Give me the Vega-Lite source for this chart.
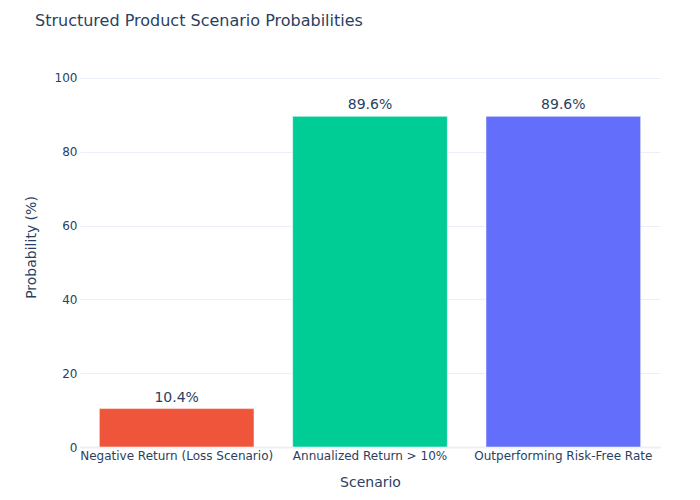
{
  "$schema": "https://vega.github.io/schema/vega-lite/v6.json",
  "autosize": {"type": "none"},
  "width": 580,
  "height": 400,
  "padding": {"left": 80, "top": 47, "right": 40, "bottom": 53},
  "background": "white",
  "config": {
    "font": "DejaVu Sans",
    "view": {"stroke": null},
    "axis": {"labelColor": "#2a3f5f", "titleColor": "#2a3f5f", "labelFont": "DejaVu Sans", "titleFont": "DejaVu Sans", "titleFontWeight": "normal"}
  },
  "title": {
    "text": "Structured Product Scenario Probabilities",
    "anchor": "start",
    "frame": "group",
    "dx": -45,
    "offset": 18,
    "fontSize": 16,
    "fontWeight": "normal",
    "color": "#2a3f5f",
    "font": "DejaVu Sans"
  },
  "data": {
    "values": [
      {"scenario": "Negative Return (Loss Scenario)", "prob": 10.4, "label": "10.4%"},
      {"scenario": "Annualized Return > 10%", "prob": 89.6, "label": "89.6%"},
      {"scenario": "Outperforming Risk-Free Rate", "prob": 89.6, "label": "89.6%"}
    ]
  },
  "encoding": {
    "x": {
      "field": "scenario",
      "type": "nominal",
      "sort": null,
      "title": "Scenario",
      "scale": {"paddingInner": 0.2, "paddingOuter": 0.1},
      "axis": {"labelAngle": 0, "labelFontSize": 12, "labelLimit": 0, "titleFontSize": 14, "ticks": false, "domain": true, "domainColor": "#ebf0f8", "domainWidth": 2, "labelPadding": 3, "titlePadding": 14}
    },
    "y": {
      "field": "prob",
      "type": "quantitative",
      "title": "Probability (%)",
      "scale": {"domain": [0, 108.4], "nice": false},
      "axis": {"values": [0, 20, 40, 60, 80, 100], "labelFontSize": 12, "titleFontSize": 14, "ticks": false, "domain": false, "gridColor": "#ebf0f8", "gridWidth": 1, "labelPadding": 3, "titlePadding": 16}
    }
  },
  "layer": [
    {
      "mark": {"type": "bar", "stroke": "white", "strokeWidth": 0.5},
      "encoding": {
        "color": {
          "field": "scenario",
          "type": "nominal",
          "sort": null,
          "scale": {"range": ["#EF553B", "#00CC96", "#636EFA"]},
          "legend": null
        }
      }
    },
    {
      "mark": {"type": "text", "baseline": "bottom", "dy": -4, "fontSize": 14, "color": "#2a3f5f", "font": "DejaVu Sans"},
      "encoding": {"text": {"field": "label"}}
    }
  ]
}
